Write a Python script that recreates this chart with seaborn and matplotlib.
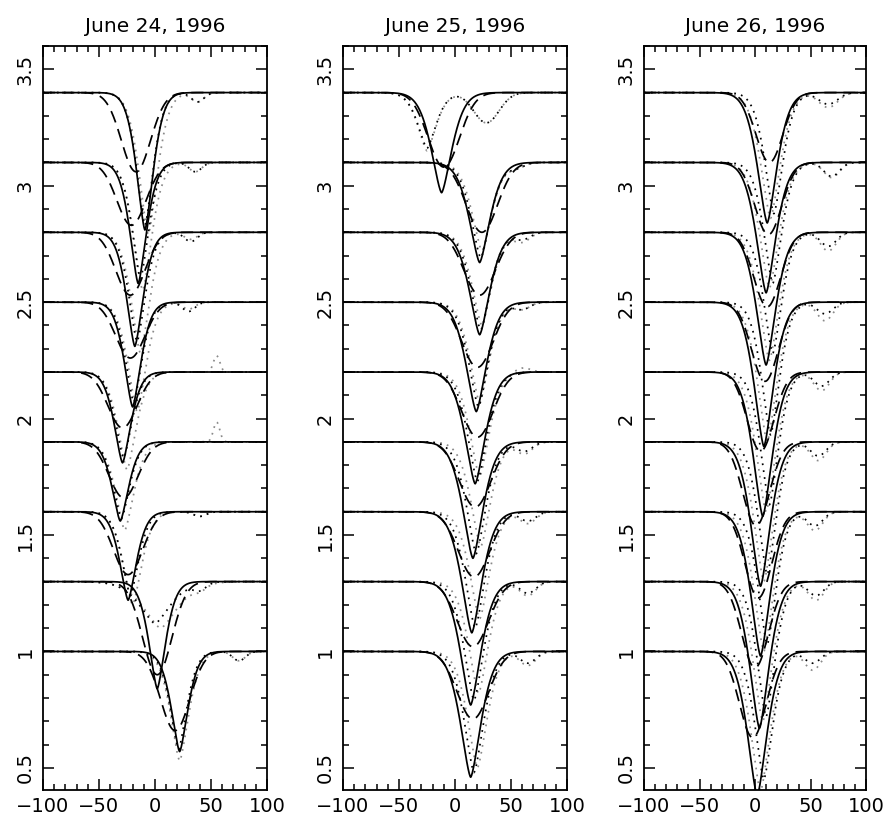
import numpy as np
import pandas as pd
import matplotlib
matplotlib.use("Agg")
import matplotlib.pyplot as plt
import seaborn as sns
from matplotlib.ticker import MultipleLocator, FuncFormatter

# shared layout of the line profiles
velocity = np.linspace(-100, 100, 801)
baselines = [1.0, 1.3, 1.6, 1.9, 2.2, 2.5, 2.8, 3.1, 3.4]
dates = ["June 24, 1996", "June 25, 1996", "June 26, 1996"]

# June 24: centre / minimum of each profile (bottom to top)
jun24_solid_c = [22, 2, -24, -31, -29, -20, -18, -15, -9]
jun24_solid_min = [0.57, 0.84, 1.22, 1.56, 1.81, 2.05, 2.31, 2.58, 2.81]
jun24_dash_c = [18, 2, -24, -28, -29, -22, -22, -21, -17]
jun24_dash_min = [0.66, 0.90, 1.33, 1.66, 1.96, 2.26, 2.53, 2.83, 3.06]
jun24_black_c = [21, 0, -22, -30, -28, -19, -16, -13, -9]
jun24_black_min = [0.58, 1.12, 1.24, 1.57, 1.83, 2.07, 2.33, 2.60, 2.83]
jun24_black_w = [11, 20, 11, 11, 11, 11, 11, 11, 11]
jun24_gray_c = [22, 5, -20, -27, -25, -16, -13, -11, -6]
jun24_gray_min = [0.53, 1.10, 1.20, 1.52, 1.78, 2.03, 2.28, 2.55, 2.79]
jun24_gray_w = [12, 22, 12, 12, 12, 12, 12, 12, 12]
jun24_bump_x = [75, 40, 40, 55, 55, 30, 32, 36, 38]
jun24_bump_w = [8, 8, 8, 4, 4, 8, 8, 8, 8]
jun24_bump_black = [-0.04, -0.03, -0.02, 0.0, 0.0, -0.04, -0.04, -0.04, -0.04]
jun24_bump_gray = [-0.04, -0.02, -0.02, 0.085, 0.07, -0.03, -0.03, -0.04, -0.04]

# June 25
jun25_solid_c = [14, 14, 15, 16, 18, 19, 22, 22, -12]
jun25_solid_min = [0.46, 0.77, 1.08, 1.40, 1.72, 2.03, 2.36, 2.67, 2.97]
jun25_dash_c = [16, 16, 17, 18, 20, 20, 22, 24, -10]
jun25_dash_min = [0.71, 1.02, 1.32, 1.62, 1.92, 2.22, 2.53, 2.80, 3.08]
jun25_black_c = [17, 17, 18, 19, 20, 21, 23, 23, -25]
jun25_black_min = [0.48, 0.79, 1.10, 1.42, 1.73, 2.05, 2.38, 2.69, 3.16]
jun25_black_w = [13, 13, 13, 13, 13, 13, 13, 13, 12]
jun25_gray_c = [20, 21, 22, 23, 22, 22, 24, 24, -25]
jun25_gray_min = [0.50, 0.82, 1.14, 1.45, 1.75, 2.07, 2.40, 2.72, 3.15]
jun25_gray_w = [13, 13, 13, 13, 13, 13, 13, 13, 12]
jun25_bump_x = [65, 65, 65, 62, 60, 60, 60, 55, 28]
jun25_bump_w = [10, 10, 10, 10, 10, 10, 10, 10, 16]
jun25_bump_black = [-0.05, -0.05, -0.04, -0.04, 0.0, -0.03, -0.03, -0.02, -0.13]
jun25_bump_gray = [-0.06, -0.06, -0.05, -0.05, 0.02, -0.03, -0.04, -0.02, -0.13]

# June 26
jun26_solid_c = [2, 4, 5, 5, 7, 8, 10, 10, 11]
jun26_solid_min = [0.38, 0.67, 0.98, 1.28, 1.58, 1.88, 2.23, 2.54, 2.84]
jun26_dash_c = [-2, 0, 3, 1, 5, 9, 11, 12, 13]
jun26_dash_min = [0.63, 0.93, 1.23, 1.54, 1.86, 2.16, 2.48, 2.79, 3.10]
jun26_black_c = [8, 10, 11, 11, 13, 14, 16, 16, 17]
jun26_black_min = [0.45, 0.72, 1.03, 1.33, 1.63, 1.93, 2.28, 2.58, 2.88]
jun26_black_w = [12, 12, 12, 12, 12, 12, 12, 12, 12]
jun26_gray_c = [5, 7, 8, 8, 10, 11, 13, 13, 14]
jun26_gray_min = [0.40, 0.70, 1.00, 1.30, 1.60, 1.90, 2.25, 2.56, 2.86]
jun26_gray_w = [13, 13, 13, 13, 13, 13, 13, 13, 13]
jun26_bump_x = [52, 55, 54, 57, 60, 63, 66, 69, 66]
jun26_bump_w = [10, 10, 10, 10, 10, 10, 10, 10, 12]
jun26_bump_black = [-0.05, -0.06, -0.06, -0.06, -0.06, -0.05, -0.06, -0.06, -0.05]
jun26_bump_gray = [-0.08, -0.08, -0.08, -0.08, -0.08, -0.08, -0.08, -0.065, -0.064]

# per-night line widths of the model profiles
solid_width = [11, 13.5, 13]
dash_sigma = [13, 14, 12]

nights = [
    dict(solid_c=jun24_solid_c, solid_min=jun24_solid_min, dash_c=jun24_dash_c, dash_min=jun24_dash_min,
         black_c=jun24_black_c, black_min=jun24_black_min, black_w=jun24_black_w,
         gray_c=jun24_gray_c, gray_min=jun24_gray_min, gray_w=jun24_gray_w,
         bump_x=jun24_bump_x, bump_w=jun24_bump_w, bump_black=jun24_bump_black, bump_gray=jun24_bump_gray),
    dict(solid_c=jun25_solid_c, solid_min=jun25_solid_min, dash_c=jun25_dash_c, dash_min=jun25_dash_min,
         black_c=jun25_black_c, black_min=jun25_black_min, black_w=jun25_black_w,
         gray_c=jun25_gray_c, gray_min=jun25_gray_min, gray_w=jun25_gray_w,
         bump_x=jun25_bump_x, bump_w=jun25_bump_w, bump_black=jun25_bump_black, bump_gray=jun25_bump_gray),
    dict(solid_c=jun26_solid_c, solid_min=jun26_solid_min, dash_c=jun26_dash_c, dash_min=jun26_dash_min,
         black_c=jun26_black_c, black_min=jun26_black_min, black_w=jun26_black_w,
         gray_c=jun26_gray_c, gray_min=jun26_gray_min, gray_w=jun26_gray_w,
         bump_x=jun26_bump_x, bump_w=jun26_bump_w, bump_black=jun26_bump_black, bump_gray=jun26_bump_gray),
]


def profile(base, center, minimum, width, power):
    """Absorption dip below a flat continuum"""
    return base - (base - minimum) * np.exp(-(np.abs(velocity - center) / width) ** power)


def bump(x0, width, amp):
    return amp * np.exp(-((velocity - x0) / width) ** 2)


def night_frame(k):
    n = nights[k]
    rows = []
    for i, b in enumerate(baselines):
        curves = {
            'gray': profile(b, n['gray_c'][i], n['gray_min'][i], n['gray_w'][i], 1.5)
                    + bump(n['bump_x'][i], n['bump_w'][i], n['bump_gray'][i]),
            'black': profile(b, n['black_c'][i], n['black_min'][i], n['black_w'][i], 1.5)
                     + bump(n['bump_x'][i], n['bump_w'][i], n['bump_black'][i]),
            'dashed': profile(b, n['dash_c'][i], n['dash_min'][i], dash_sigma[k] * np.sqrt(2), 2),
            'solid': profile(b, n['solid_c'][i], n['solid_min'][i], solid_width[k], 1.5),
        }
        for kind, flux in curves.items():
            rows.append(pd.DataFrame({'velocity': velocity, 'flux': flux,
                                      'kind': kind, 'profile': i}))
    return pd.concat(rows, ignore_index=True)


sns.set_style("ticks")
plt.rcParams['font.family'] = ['DejaVu Sans']
plt.rcParams['text.color'] = 'black'
plt.rcParams['xtick.color'] = 'black'
plt.rcParams['ytick.color'] = 'black'
plt.rcParams['axes.edgecolor'] = 'black'

fig = plt.figure(figsize=(8.88, 8.22), dpi=100)
lefts = [43, 343, 644]
widths = [224, 224, 222]

palette = {'gray': '#8a8a8a', 'black': 'black', 'dashed': 'black', 'solid': 'black'}
dashes = {'gray': (1, 3), 'black': (1, 3), 'dashed': (7, 4), 'solid': ''}

for k in range(3):
    ax = fig.add_axes([lefts[k] / 888, 1 - 790 / 822, widths[k] / 888, 744 / 822])
    df = night_frame(k)
    sns.lineplot(data=df, x='velocity', y='flux', hue='kind', style='kind', units='profile',
                 estimator=None, sort=False, palette=palette, dashes=dashes,
                 hue_order=['gray', 'black', 'dashed', 'solid'], legend=False,
                 linewidth=1.25, ax=ax)

    ax.set_xlim(-100, 100)
    ax.set_ylim(0.405, 3.6)
    ax.set_xlabel('')
    ax.set_ylabel('')
    ax.set_title(dates[k], fontsize=14.5, pad=10, color='black')

    ax.xaxis.set_major_locator(MultipleLocator(50))
    ax.xaxis.set_minor_locator(MultipleLocator(10))
    ax.yaxis.set_major_locator(MultipleLocator(0.5))
    ax.yaxis.set_minor_locator(MultipleLocator(0.1))
    ax.yaxis.set_major_formatter(FuncFormatter(lambda v, _: f"{v:g}"))

    ax.tick_params(which='both', direction='in', top=True, right=True, width=1.1,
                   labelsize=14, colors='black')
    ax.tick_params(which='major', length=8)
    ax.tick_params(which='minor', length=4)
    ax.tick_params(axis='x', pad=5)
    ax.tick_params(axis='y', pad=6)
    plt.setp(ax.get_yticklabels(), rotation=90, va='center')
    for s in ax.spines.values():
        s.set_linewidth(1.3)
        s.set_color('black')
        s.set_visible(True)

plt.savefig('out.png', dpi=100)
